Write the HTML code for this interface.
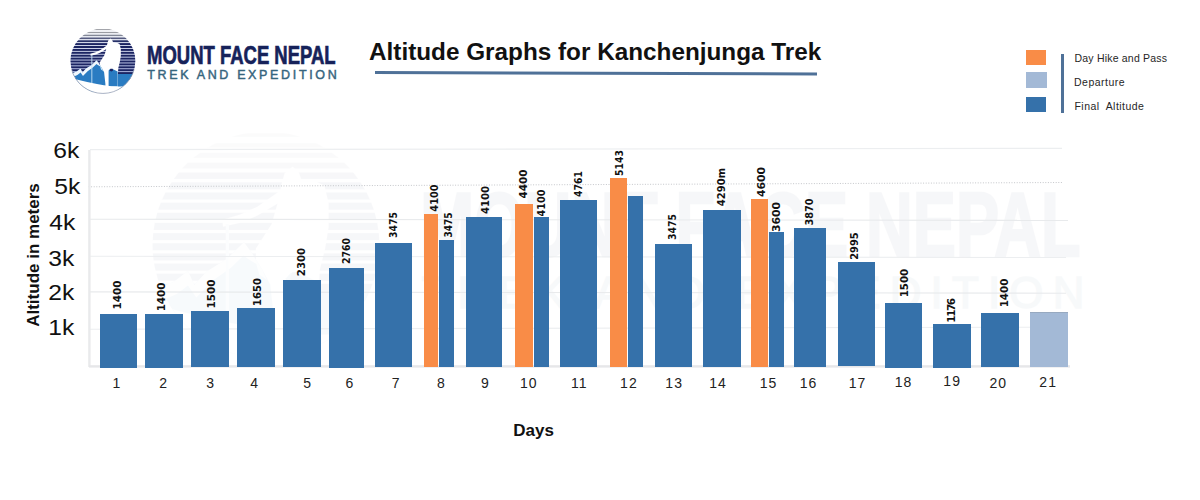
<!DOCTYPE html>
<html><head><meta charset="utf-8">
<style>
*{margin:0;padding:0;box-sizing:border-box}
html,body{width:1200px;height:500px;background:#fff;overflow:hidden}
#root{position:relative;width:1200px;height:500px;background:#fff;font-family:"Liberation Sans",Arial,sans-serif}
.abs{position:absolute}
.bar{position:absolute}
.vl{position:absolute;margin-left:0.9px;font:700 10px/1 "DejaVu Sans","Liberation Sans",sans-serif;letter-spacing:0;padding-left:0;color:#111;white-space:nowrap;transform:translate(-50%,-50%) rotate(-90deg)}
.tk{position:absolute;font:400 14px/1 "Liberation Sans",Arial,sans-serif;color:#222;white-space:nowrap;transform:translateX(-50%);margin-top:-1.9px;letter-spacing:1.1px;padding-left:1.1px}
.yl{position:absolute;font:400 22px/1 "Liberation Sans",Arial,sans-serif;color:#111;white-space:nowrap;margin-top:-2.6px;transform:scaleX(1.12);transform-origin:100% 0}
.gl{position:absolute;left:90px;width:973px;height:1px}
.gl.solid{background:#e4e6e8}
.gl.dot{background:repeating-linear-gradient(90deg,#c9cbce 0 1px,transparent 1px 3px)}
</style></head><body>
<div id="root">

<div class="abs" style="left:0;top:0;width:340px;height:100px;transform:translate(-94.15px,31.5px) scale(3.5);transform-origin:0 0;opacity:0.03"><!-- logo -->
<div  class="abs" style="left:0;top:0;width:340px;height:100px">
<svg class="abs" style="left:0;top:0" width="140" height="100" viewBox="0 0 140 100">
<defs>
<clipPath id="wcc"><circle cx="102.9" cy="61" r="32.4"/></clipPath>
<linearGradient id="wbg" x1="0" y1="28" x2="0" y2="80" gradientUnits="userSpaceOnUse"><stop offset="0" stop-color="#ffffff"/><stop offset="0.3" stop-color="#e6eaf7"/><stop offset="1" stop-color="#b3bfeb"/></linearGradient>
</defs>
<g clip-path="url(#wcc)">
<rect x="60" y="20" width="80" height="80" fill="none"/>
<rect x="60" y="29.10" width="80" height="1.00" fill="#9a9ca2"/><rect x="60" y="31.90" width="80" height="1.21" fill="#9a9ca2"/><rect x="60" y="34.69" width="80" height="1.41" fill="#838796"/><rect x="60" y="37.49" width="80" height="1.62" fill="#555b7f"/><rect x="60" y="40.29" width="80" height="1.83" fill="#273068"/><rect x="60" y="43.10" width="80" height="2.00" fill="#1b2462"/><rect x="60" y="46.00" width="80" height="2.00" fill="#1b2462"/><rect x="60" y="48.90" width="80" height="2.00" fill="#1b2462"/><rect x="60" y="51.80" width="80" height="2.00" fill="#1b2462"/><rect x="60" y="54.70" width="80" height="2.00" fill="#1b2462"/><rect x="60" y="57.60" width="80" height="2.00" fill="#1b2462"/><rect x="60" y="60.50" width="80" height="2.00" fill="#1b2462"/><rect x="60" y="63.40" width="80" height="2.00" fill="#1b2462"/><rect x="60" y="66.30" width="80" height="2.00" fill="#1b2462"/><rect x="60" y="69.20" width="80" height="2.00" fill="#1b2462"/><rect x="60" y="72.10" width="80" height="2.00" fill="#1b2462"/><rect x="60" y="75.00" width="80" height="2.00" fill="#1b2462"/><rect x="60" y="77.90" width="80" height="2.00" fill="#1b2462"/>
<path d="M117 74 L140 74 L140 100 L117 100 Z" fill="#2a7cc2"/>
<path d="M108.2 40.5 L110.5 38.6 L112.3 40.2 L113 42.3 L117.5 43 L119.6 44 L120.8 49 L120.8 56 L119.8 62 L118.3 68 L117.8 76 L117.8 92 L100 92 L100 62 L104.5 55 L106.5 48 L107.2 44 Z" fill="#ffffff"/>
<path d="M107.6 45 L106.9 48.8 L100.5 52.6 L96 54.6 L90.6 55.8 L90.4 53.8 L95.5 52.3 L100.5 50 Z" fill="#ffffff"/>
<path d="M64 76 L72.3 73.3 L76.6 71.5 L80.6 68.4 L82.4 72.4 L86 68.6 L91.7 65 L96.6 60.2 L99 63.5 L101.8 68 L104.1 72.3 L105.4 84 L105.4 92 L64 92 Z" fill="#2a7cc2"/>
<path d="M64 76 L72.3 73.3 L76.6 71.5 L80.6 68.4 L82.4 72.4 L86 68.6 L91.7 65 L96.6 60.2 L99 63.5 L100.8 66.8 L97.8 65 L96.5 64 L92.8 67.6 L87.6 71.2 L83 76 L80.6 72.6 L77.4 75 L72.8 77 L64 80 Z" fill="#f2f8fd"/>
<path d="M99.6 64.6 L101.8 68 L103.2 71 L101 69.5 Z" fill="#cfe8f8"/>
<rect x="91.4" y="55" width="0.9" height="28" fill="#c4e2f6"/>
<path d="M108.6 70.5 L110 69 L113 69.3 L117.6 71.5 L117.6 86.4 L108.6 86.4 Z" fill="#2a7cc2"/>
<path d="M109.6 70.8 L110.4 68.8 L112.6 68.8 L113.2 70.6 L111.5 71.4 Z" fill="#1b2462"/>
<path d="M60 75 Q 88 83 104 85.2 Q 118 88 140 85 L140 100 L60 100 Z" fill="#ffffff"/>
</g>
<path d="M71.60 69.39 A32.4 32.4 0 0 0 134.20 69.39" fill="none" stroke="none" stroke-width="0.7"/>
</svg>
<div class="abs" style="left:147px;top:41.6px;font:700 26px/1 'Liberation Sans',Arial,sans-serif;color:#16225a;white-space:nowrap;transform:scaleX(0.711);transform-origin:0 0;-webkit-text-stroke:0.7px #16225a">MOUNT FACE NEPAL</div>
<div class="abs" style="left:147.3px;top:69px;font:400 12.5px/1 'Liberation Sans',Arial,sans-serif;color:#36657e;white-space:nowrap;letter-spacing:2.65px;-webkit-text-stroke:0.45px #36657e">TREK AND EXPEDITION</div>
</div>

</div>
<!-- grid -->
<svg class="abs" style="left:0;top:0" width="1200" height="500" viewBox="0 0 1200 500">
<line x1="90" y1="149.6" x2="1062" y2="148.4" stroke="#eceef0" stroke-width="1.2"/>
<line x1="88.5" y1="186.8" x2="1063" y2="182.5" stroke="#c4c6ca" stroke-width="1" stroke-dasharray="1 1.6"/>
<line x1="90" y1="219.2" x2="1068" y2="220.4" stroke="#e8eaec" stroke-width="1.1"/>
<line x1="90" y1="256.3" x2="1066" y2="257.5" stroke="#eceef0" stroke-width="1.1"/>
<line x1="90" y1="291.9" x2="1066" y2="293.2" stroke="#e8eaec" stroke-width="1.1"/>
<line x1="90" y1="329.2" x2="1066" y2="327.2" stroke="#eceef0" stroke-width="1.1"/>
<rect x="88.2" y="150" width="2.4" height="217" fill="#e9eaec"/>
<rect x="89" y="365.2" width="981" height="2.4" fill="#e6e7e9"/>
</svg>
<!-- bars -->
<div class="bar" style="left:100px;top:314px;width:37px;height:53.5px;background:#3571aa"></div>
<div class="bar" style="left:145.3px;top:314px;width:37.5px;height:53.5px;background:#3571aa"></div>
<div class="bar" style="left:191.2px;top:311px;width:37.6px;height:56px;background:#3571aa"></div>
<div class="bar" style="left:237.2px;top:308px;width:37.5px;height:59px;background:#3571aa"></div>
<div class="bar" style="left:283.3px;top:280px;width:37.7px;height:87px;background:#3571aa"></div>
<div class="bar" style="left:329.2px;top:268px;width:34.6px;height:99.5px;background:#3571aa"></div>
<div class="bar" style="left:375px;top:242.8px;width:37px;height:124.2px;background:#3571aa"></div>
<div class="bar" style="left:424.2px;top:214.4px;width:14.1px;height:152.6px;background:#f98c47"></div>
<div class="bar" style="left:439.2px;top:240.4px;width:14.6px;height:126.6px;background:#3571aa"></div>
<div class="bar" style="left:466.3px;top:217px;width:35.7px;height:150px;background:#3571aa"></div>
<div class="bar" style="left:515.3px;top:204px;width:18px;height:163px;background:#f98c47"></div>
<div class="bar" style="left:534.3px;top:217px;width:14.5px;height:150px;background:#3571aa"></div>
<div class="bar" style="left:559.7px;top:200px;width:37.3px;height:167px;background:#3571aa"></div>
<div class="bar" style="left:609.5px;top:177.8px;width:17.2px;height:189.2px;background:#f98c47"></div>
<div class="bar" style="left:628px;top:196px;width:15.3px;height:171px;background:#3571aa"></div>
<div class="bar" style="left:655px;top:244px;width:37.2px;height:123px;background:#3571aa"></div>
<div class="bar" style="left:703.3px;top:210px;width:37.5px;height:157px;background:#3571aa"></div>
<div class="bar" style="left:751.2px;top:199px;width:16.8px;height:168px;background:#f98c47"></div>
<div class="bar" style="left:769px;top:232px;width:14.7px;height:135px;background:#3571aa"></div>
<div class="bar" style="left:793.7px;top:228px;width:32.3px;height:139px;background:#3571aa"></div>
<div class="bar" style="left:837.9px;top:262.3px;width:36.9px;height:103.7px;background:#3571aa"></div>
<div class="bar" style="left:884.8px;top:303px;width:36.9px;height:64.6px;background:#3571aa"></div>
<div class="bar" style="left:932.9px;top:324px;width:38.1px;height:44px;background:#3571aa"></div>
<div class="bar" style="left:981px;top:312.5px;width:37.75px;height:54.1px;background:#3571aa"></div>
<div class="bar" style="left:1030px;top:312px;width:37.6px;height:54.6px;background:#a3b9d6;border-top:1.5px solid #97a9c0"></div>
<div class="vl" style="left:117.5px;top:295px;transform:translate(-50%,-50%) rotate(-90deg) scaleX(1.04)">1400</div>
<div class="vl" style="left:161.4px;top:297.1px;transform:translate(-50%,-50%) rotate(-90deg) scaleX(1.032)">1400</div>
<div class="vl" style="left:210.7px;top:294.4px;transform:translate(-50%,-50%) rotate(-90deg) scaleX(1.048)">1500</div>
<div class="vl" style="left:256.7px;top:291.7px;transform:translate(-50%,-50%) rotate(-90deg) scaleX(1.0)">1650</div>
<div class="vl" style="left:301px;top:262.25px;transform:translate(-50%,-50%) rotate(-90deg) scaleX(1.019)">2300</div>
<div class="vl" style="left:346.5px;top:251.45px;transform:translate(-50%,-50%) rotate(-90deg) scaleX(0.935)">2760</div>
<div class="vl" style="left:393.3px;top:225.35px;transform:translate(-50%,-50%) rotate(-90deg) scaleX(0.932)">3475</div>
<div class="vl" style="left:434.2px;top:198.05px;transform:translate(-50%,-50%) rotate(-90deg) scaleX(0.981)">4100</div>
<div class="vl" style="left:448px;top:225.45px;transform:translate(-50%,-50%) rotate(-90deg) scaleX(0.9)">3475</div>
<div class="vl" style="left:485px;top:199.85px;transform:translate(-50%,-50%) rotate(-90deg) scaleX(1.012)">4100</div>
<div class="vl" style="left:523px;top:183.9px;transform:translate(-50%,-50%) rotate(-90deg) scaleX(1.046)">4400</div>
<div class="vl" style="left:540.8px;top:202.65px;transform:translate(-50%,-50%) rotate(-90deg) scaleX(0.973)">4100</div>
<div class="vl" style="left:578.3px;top:184.15px;transform:translate(-50%,-50%) rotate(-90deg) scaleX(0.935)">4761</div>
<div class="vl" style="left:618.8px;top:162.9px;transform:translate(-50%,-50%) rotate(-90deg) scaleX(0.931)">5143</div>
<div class="vl" style="left:672.5px;top:227.3px;transform:translate(-50%,-50%) rotate(-90deg) scaleX(0.936)">3475</div>
<div class="vl" style="left:721px;top:186.5px;transform:translate(-50%,-50%) rotate(-90deg) scaleX(1.0)">4290m</div>
<div class="vl" style="left:761px;top:182px;transform:translate(-50%,-50%) rotate(-90deg) scaleX(1.077)">4600</div>
<div class="vl" style="left:776.5px;top:216.5px;transform:translate(-50%,-50%) rotate(-90deg) scaleX(1.08)">3600</div>
<div class="vl" style="left:809px;top:212.2px;transform:translate(-50%,-50%) rotate(-90deg) scaleX(0.976)">3870</div>
<div class="vl" style="left:853.8px;top:246.15px;transform:translate(-50%,-50%) rotate(-90deg) scaleX(0.988)">2995</div>
<div class="vl" style="left:904px;top:282.8px;transform:translate(-50%,-50%) rotate(-90deg) scaleX(1.024)">1500</div>
<div class="vl" style="left:951.5px;top:310.6px;letter-spacing:-1.4px;padding-left:-1.4px;transform:translate(-50%,-50%) rotate(-90deg) scaleX(1.048)">1176</div>
<div class="vl" style="left:1004px;top:293.05px;transform:translate(-50%,-50%) rotate(-90deg) scaleX(1.028)">1400</div>
<div class="tk" style="left:116.5px;top:377.5px">1</div>
<div class="tk" style="left:163.2px;top:378.3px">2</div>
<div class="tk" style="left:210.2px;top:378.3px">3</div>
<div class="tk" style="left:254.2px;top:377.5px">4</div>
<div class="tk" style="left:307.2px;top:378.3px">5</div>
<div class="tk" style="left:349.3px;top:378.3px">6</div>
<div class="tk" style="left:395.6px;top:378.3px">7</div>
<div class="tk" style="left:440.8px;top:378.3px">8</div>
<div class="tk" style="left:485px;top:378.3px">9</div>
<div class="tk" style="left:528.3px;top:378.3px">10</div>
<div class="tk" style="left:578.8px;top:378.3px">11</div>
<div class="tk" style="left:628.4px;top:378.3px">12</div>
<div class="tk" style="left:673.7px;top:378.3px">13</div>
<div class="tk" style="left:717.5px;top:378.3px">14</div>
<div class="tk" style="left:768px;top:378.3px">15</div>
<div class="tk" style="left:808px;top:378.3px">16</div>
<div class="tk" style="left:857px;top:378px">17</div>
<div class="tk" style="left:903px;top:377px">18</div>
<div class="tk" style="left:951.6px;top:375.6px">19</div>
<div class="tk" style="left:997.8px;top:377.6px">20</div>
<div class="tk" style="left:1047.7px;top:376.4px">21</div>
<div class="yl" style="right:1120.4px;top:143px">6k</div>
<div class="yl" style="right:1120px;top:178.2px">5k</div>
<div class="yl" style="right:1124.9px;top:215px">4k</div>
<div class="yl" style="right:1125.3px;top:250.5px">3k</div>
<div class="yl" style="right:1125.4px;top:285px">2k</div>
<div class="yl" style="right:1125.4px;top:320px">1k</div>

<!-- axis titles -->
<div class="abs" style="left:33px;top:254.8px;font:700 17px/1 'Liberation Sans',Arial,sans-serif;color:#111;white-space:nowrap;transform:translate(-50%,-50%) rotate(-90deg)">Altitude in meters</div>
<div class="abs" style="left:513.3px;top:421.5px;font:700 17px/1 'Liberation Sans',Arial,sans-serif;color:#111;white-space:nowrap">Days</div>

<!-- title -->
<div class="abs" style="left:369px;top:39.8px;font:700 24.3px/1 'Liberation Sans',Arial,sans-serif;color:#111;white-space:nowrap">Altitude Graphs for Kanchenjunga Trek</div>
<svg class="abs" style="left:0;top:0" width="1200" height="100" viewBox="0 0 1200 100"><line x1="375" y1="72.6" x2="817" y2="74" stroke="#4f7198" stroke-width="3"/></svg>

<!-- legend -->
<div class="abs" style="left:1026px;top:50px;width:20px;height:15px;background:#f98c47"></div>
<div class="abs" style="left:1026px;top:72px;width:21px;height:15.5px;background:#a3b9d6"></div>
<div class="abs" style="left:1026px;top:97px;width:20px;height:15px;background:#3571aa"></div>
<div class="abs" style="left:1061px;top:54px;width:2.5px;height:59px;background:#4f7198"></div>
<div class="abs" style="left:1074.5px;top:52.5px;font:400 10.5px/1 'Liberation Sans',Arial,sans-serif;color:#262626;white-space:pre;letter-spacing:0.2px">Day Hike and Pass</div>
<div class="abs" style="left:1074px;top:76.5px;font:400 10.5px/1 'Liberation Sans',Arial,sans-serif;color:#262626;white-space:pre;letter-spacing:0.5px">Departure</div>
<div class="abs" style="left:1074.5px;top:100.5px;font:400 10.5px/1 'Liberation Sans',Arial,sans-serif;color:#262626;white-space:pre;letter-spacing:0.45px">Final  Altitude</div>

<!-- logo -->
<div id="logo" class="abs" style="left:0;top:0;width:340px;height:100px">
<svg class="abs" style="left:0;top:0" width="140" height="100" viewBox="0 0 140 100">
<defs>
<clipPath id="cc"><circle cx="102.9" cy="61" r="32.4"/></clipPath>
<linearGradient id="bg" x1="0" y1="28" x2="0" y2="80" gradientUnits="userSpaceOnUse"><stop offset="0" stop-color="#ffffff"/><stop offset="0.3" stop-color="#e6eaf7"/><stop offset="1" stop-color="#b3bfeb"/></linearGradient>
</defs>
<g clip-path="url(#cc)">
<rect x="60" y="20" width="80" height="80" fill="url(#bg)"/>
<rect x="60" y="29.10" width="80" height="1.00" fill="#9a9ca2"/><rect x="60" y="31.90" width="80" height="1.21" fill="#9a9ca2"/><rect x="60" y="34.69" width="80" height="1.41" fill="#838796"/><rect x="60" y="37.49" width="80" height="1.62" fill="#555b7f"/><rect x="60" y="40.29" width="80" height="1.83" fill="#273068"/><rect x="60" y="43.10" width="80" height="2.00" fill="#1b2462"/><rect x="60" y="46.00" width="80" height="2.00" fill="#1b2462"/><rect x="60" y="48.90" width="80" height="2.00" fill="#1b2462"/><rect x="60" y="51.80" width="80" height="2.00" fill="#1b2462"/><rect x="60" y="54.70" width="80" height="2.00" fill="#1b2462"/><rect x="60" y="57.60" width="80" height="2.00" fill="#1b2462"/><rect x="60" y="60.50" width="80" height="2.00" fill="#1b2462"/><rect x="60" y="63.40" width="80" height="2.00" fill="#1b2462"/><rect x="60" y="66.30" width="80" height="2.00" fill="#1b2462"/><rect x="60" y="69.20" width="80" height="2.00" fill="#1b2462"/><rect x="60" y="72.10" width="80" height="2.00" fill="#1b2462"/><rect x="60" y="75.00" width="80" height="2.00" fill="#1b2462"/><rect x="60" y="77.90" width="80" height="2.00" fill="#1b2462"/>
<path d="M117 74 L140 74 L140 100 L117 100 Z" fill="#2a7cc2"/>
<path d="M108.2 40.5 L110.5 38.6 L112.3 40.2 L113 42.3 L117.5 43 L119.6 44 L120.8 49 L120.8 56 L119.8 62 L118.3 68 L117.8 76 L117.8 92 L100 92 L100 62 L104.5 55 L106.5 48 L107.2 44 Z" fill="#ffffff"/>
<path d="M107.6 45 L106.9 48.8 L100.5 52.6 L96 54.6 L90.6 55.8 L90.4 53.8 L95.5 52.3 L100.5 50 Z" fill="#ffffff"/>
<path d="M64 76 L72.3 73.3 L76.6 71.5 L80.6 68.4 L82.4 72.4 L86 68.6 L91.7 65 L96.6 60.2 L99 63.5 L101.8 68 L104.1 72.3 L105.4 84 L105.4 92 L64 92 Z" fill="#2a7cc2"/>
<path d="M64 76 L72.3 73.3 L76.6 71.5 L80.6 68.4 L82.4 72.4 L86 68.6 L91.7 65 L96.6 60.2 L99 63.5 L100.8 66.8 L97.8 65 L96.5 64 L92.8 67.6 L87.6 71.2 L83 76 L80.6 72.6 L77.4 75 L72.8 77 L64 80 Z" fill="#f2f8fd"/>
<path d="M99.6 64.6 L101.8 68 L103.2 71 L101 69.5 Z" fill="#cfe8f8"/>
<rect x="91.4" y="55" width="0.9" height="28" fill="#c4e2f6"/>
<path d="M108.6 70.5 L110 69 L113 69.3 L117.6 71.5 L117.6 86.4 L108.6 86.4 Z" fill="#2a7cc2"/>
<path d="M109.6 70.8 L110.4 68.8 L112.6 68.8 L113.2 70.6 L111.5 71.4 Z" fill="#1b2462"/>
<path d="M60 75 Q 88 83 104 85.2 Q 118 88 140 85 L140 100 L60 100 Z" fill="#ffffff"/>
</g>
<path d="M71.60 69.39 A32.4 32.4 0 0 0 134.20 69.39" fill="none" stroke="#8e99ad" stroke-width="0.7"/>
</svg>
<div class="abs" style="left:147px;top:41.6px;font:700 26px/1 'Liberation Sans',Arial,sans-serif;color:#16225a;white-space:nowrap;transform:scaleX(0.711);transform-origin:0 0;-webkit-text-stroke:0.7px #16225a">MOUNT FACE NEPAL</div>
<div class="abs" style="left:147.3px;top:69px;font:400 12.5px/1 'Liberation Sans',Arial,sans-serif;color:#36657e;white-space:nowrap;letter-spacing:2.65px;-webkit-text-stroke:0.45px #36657e">TREK AND EXPEDITION</div>
</div>

</div>
</body></html>
